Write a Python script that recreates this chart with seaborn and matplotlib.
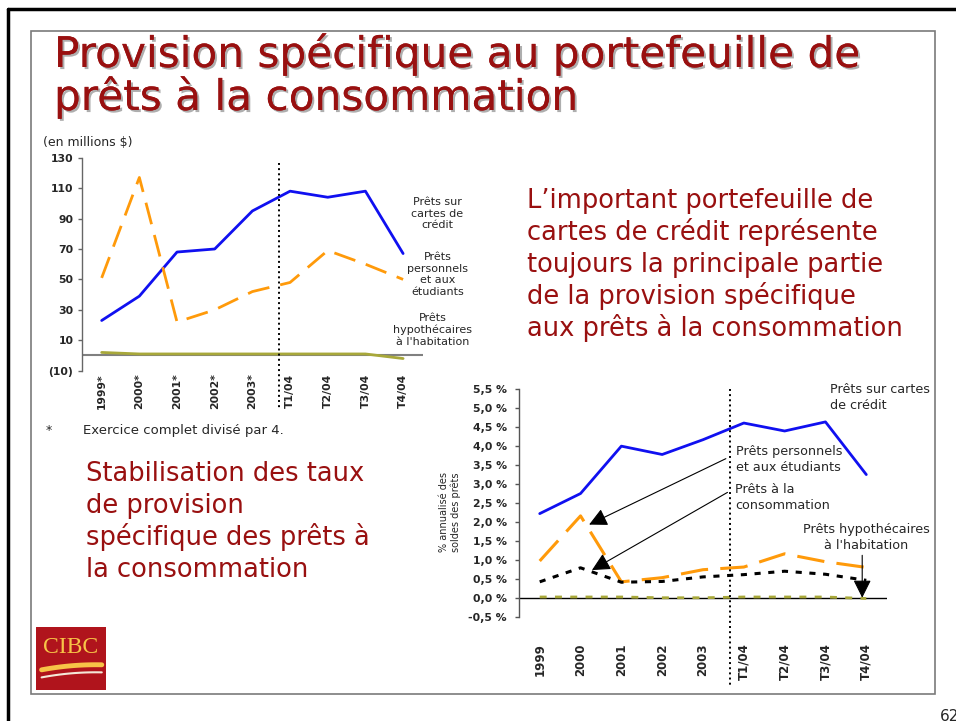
import numpy as np
import pandas as pd
import seaborn as sns
import matplotlib.pyplot as plt
import matplotlib.patheffects as pe
from matplotlib.patches import Rectangle
from matplotlib.lines import Line2D
from matplotlib.ticker import FuncFormatter

# ---- data ----
periodes_m = ['1999*', '2000*', '2001*', '2002*', '2003*', 'T1/04', 'T2/04', 'T3/04', 'T4/04']
periodes_p = ['1999', '2000', '2001', '2002', '2003', 'T1/04', 'T2/04', 'T3/04', 'T4/04']

# provision en millions $
cartes_m = [23, 39, 68, 70, 95, 108, 104, 108, 67]
personnels_m = [51, 117, 22, 30, 42, 48, 69, 60, 50]
hypo_m = [2, 1, 1, 1, 1, 1, 1, 1, -2]

# % annualise des soldes des prets
cartes_p = [2.22, 2.75, 4.00, 3.78, 4.17, 4.61, 4.40, 4.64, 3.25]
personnels_p = [0.97, 2.16, 0.42, 0.53, 0.74, 0.81, 1.16, 0.95, 0.80]
conso_p = [0.42, 0.79, 0.41, 0.43, 0.55, 0.61, 0.70, 0.62, 0.46]
hypo_p = [0.02, 0.02, 0.02, 0.0, 0.0, 0.02, 0.02, 0.02, -0.02]

W, H = 956, 721
ROUGE = '#991010'
BLEU = '#1010F0'
ORANGE = '#FF9A0A'
OLIVE = '#A8A83A'


def fx(x):
    return x / W


def fy(y):
    return 1 - y / H


sns.set_style('white')
plt.rcParams['font.family'] = ['DejaVu Sans']

fig = plt.figure(figsize=(W / 100, H / 100), dpi=100)

# slide frames
fig.add_artist(Line2D([fx(8), 1], [fy(9), fy(9)], color='black', lw=2.5))
fig.add_artist(Line2D([fx(8), fx(8)], [fy(9), 0], color='black', lw=2.5))
fig.add_artist(Rectangle((fx(31), fy(694)), (935 - 31) / W, (694 - 31) / H,
                         fill=False, ec='#7a7a7a', lw=1.2, transform=fig.transFigure))

# title with shadow
ombre = [pe.withSimplePatchShadow(offset=(1.5, -1.5), shadow_rgbFace='#9a9a9a', alpha=0.8), pe.Normal()]
fig.text(fx(54), fy(67), 'Provision spécifique au portefeuille de', fontsize=30.4,
         color=ROUGE, va='baseline', path_effects=ombre)
fig.text(fx(54), fy(110), 'prêts à la consommation', fontsize=30.4,
         color=ROUGE, va='baseline', path_effects=ombre)

# ---------------- left chart (millions) ----------------
x = np.arange(len(periodes_m))
ax1 = fig.add_axes([fx(81.7), fy(370.7), 341 / W, 213 / H])
sns.lineplot(x=x, y=cartes_m, ax=ax1, color=BLEU, lw=2)
sns.lineplot(x=x, y=personnels_m, ax=ax1, color=ORANGE, lw=2, linestyle=(0, (8, 4)))
sns.lineplot(x=x, y=hypo_m, ax=ax1, color=OLIVE, lw=2)
ax1.axhline(0, color='#808080', lw=1.5, zorder=1)
ax1.plot([4.7, 4.7], [126.5, -36], color='black', ls=':', lw=1.4, clip_on=False)
ax1.set_xlim(-0.53, 8.52)
ax1.set_ylim(-10, 130)
ax1.set_yticks(np.arange(-10, 131, 20))
ax1.yaxis.set_major_formatter(FuncFormatter(lambda v, p: f'({abs(int(v))})' if v < 0 else f'{int(v)}'))
ax1.set_xticks(x)
ax1.set_xticklabels(periodes_m, rotation=90, fontweight='bold', fontsize=7.8)
ax1.tick_params(axis='x', length=0, pad=2)
ax1.tick_params(axis='y', left=True, length=3, width=1, color='#666666', pad=3, labelsize=7.8)
for t in ax1.get_yticklabels():
    t.set_fontweight('bold')
for s in ['top', 'right', 'bottom']:
    ax1.spines[s].set_visible(False)
ax1.spines['left'].set_color('#666666')
ax1.spines['left'].set_linewidth(1)

fig.text(fx(43), fy(143), '(en millions $)', fontsize=9, va='center')
petit = dict(fontsize=8, ha='center', va='top', multialignment='center', linespacing=1.2)
fig.text(fx(437), fy(197), 'Prêts sur\ncartes de\ncrédit', **petit)
fig.text(fx(438), fy(252), 'Prêts\npersonnels\net aux\nétudiants', **petit)
fig.text(fx(433), fy(313), 'Prêts\nhypothécaires\nà l\'habitation', **petit)

fig.text(fx(46), fy(431), '*', fontsize=9, va='center')
fig.text(fx(83), fy(431), 'Exercice complet divisé par 4.', fontsize=9.5, va='center')

# big texts
lignes_g = ['Stabilisation des taux', 'de provision', 'spécifique des prêts à', 'la consommation']
for i, l in enumerate(lignes_g):
    fig.text(fx(86), fy(481 + 32 * i), l, fontsize=18.5, color=ROUGE, va='baseline')
lignes_d = ['L\u2019important portefeuille de', 'cartes de crédit représente',
            'toujours la principale partie', 'de la provision spécifique',
            'aux prêts à la consommation']
for i, l in enumerate(lignes_d):
    fig.text(fx(527), fy(208 + 32 * i), l, fontsize=18.5, color=ROUGE, va='baseline')

# ---------------- right chart (%) ----------------
ax2 = fig.add_axes([fx(519.3), fy(616.7), 367.4 / W, 227.4 / H])
sns.lineplot(x=x, y=cartes_p, ax=ax2, color=BLEU, lw=2)
sns.lineplot(x=x, y=personnels_p, ax=ax2, color=ORANGE, lw=2.2, linestyle=(0, (9, 4)))
sns.lineplot(x=x, y=conso_p, ax=ax2, color='black', lw=2.2, linestyle=(0, (2, 2.5)))
sns.lineplot(x=x, y=hypo_p, ax=ax2, color=OLIVE, lw=2, linestyle=(0, (2.5, 3)))
ax2.axhline(0, color='black', lw=1, zorder=1)
ax2.plot([4.66, 4.66], [5.52, -2.35], color='black', ls=':', lw=1.4, clip_on=False)
ax2.set_xlim(-0.5, 8.5)
ax2.set_ylim(-0.5, 5.5)
ax2.set_yticks(np.arange(-0.5, 5.51, 0.5))
ax2.yaxis.set_major_formatter(FuncFormatter(lambda v, p: f'{v:.1f} %'.replace('.', ',')))
ax2.set_xticks(x)
ax2.set_xticklabels(periodes_p, rotation=90, fontweight='bold', fontsize=8.5)
ax2.tick_params(axis='x', length=0, pad=19)
ax2.tick_params(axis='y', left=True, length=3, width=1, color='#555555', pad=6, labelsize=7.8)
for t in ax2.get_yticklabels():
    t.set_fontweight('bold')
for s in ['top', 'right', 'bottom']:
    ax2.spines[s].set_visible(False)
ax2.spines['left'].set_color('#555555')
ax2.spines['left'].set_linewidth(1)

fig.text(fx(450), fy(512), '% annualisé des\nsoldes des prêts', fontsize=7, rotation=90,
         ha='center', va='center', multialignment='center', linespacing=1.1)

fleche = dict(arrowstyle='-|>,head_length=1.1,head_width=0.55', color='black', lw=0.8,
              shrinkA=0, shrinkB=0)
ax2.annotate('', xy=(1.21, 1.93), xytext=(4.56, 3.67), arrowprops=fleche)
ax2.annotate('', xy=(1.28, 0.73), xytext=(4.6, 2.78), arrowprops=fleche)
ax2.annotate('', xy=(7.9, 0.0), xytext=(7.9, 1.12), arrowprops=fleche)

moyen = dict(fontsize=9.2, va='top', linespacing=1.3)
fig.text(fx(830), fy(383), 'Prêts sur cartes\nde crédit', **moyen)
fig.text(fx(736), fy(445), 'Prêts personnels\net aux étudiants', **moyen)
fig.text(fx(735), fy(483), 'Prêts à la\nconsommation', **moyen)
fig.text(fx(866), fy(523), 'Prêts hypothécaires\nà l\'habitation', ha='center',
         multialignment='center', **moyen)

# CIBC logo
axl = fig.add_axes([fx(36), fy(690), 70 / W, 63 / H])
axl.set_xlim(0, 1)
axl.set_ylim(0, 1)
axl.add_patch(Rectangle((0, 0), 1, 1, color='#B0141C'))
axl.text(0.5, 0.68, 'CIBC', fontsize=17, family='Liberation Serif', color='#F7C447',
         ha='center', va='center')
t = np.linspace(0, 1, 50)
axl.plot(0.08 + 0.86 * t, 0.30 + 0.18 * t - 0.1 * t * t + 0.02, color='#F7C447', lw=3.5)
axl.plot(0.08 + 0.86 * t, 0.18 + 0.18 * t - 0.1 * t * t + 0.02, color='#F4E8D8', lw=1.5)
axl.axis('off')

fig.text(fx(940), fy(721), '62', fontsize=11, va='baseline')

fig.savefig('out.png', dpi=100)
